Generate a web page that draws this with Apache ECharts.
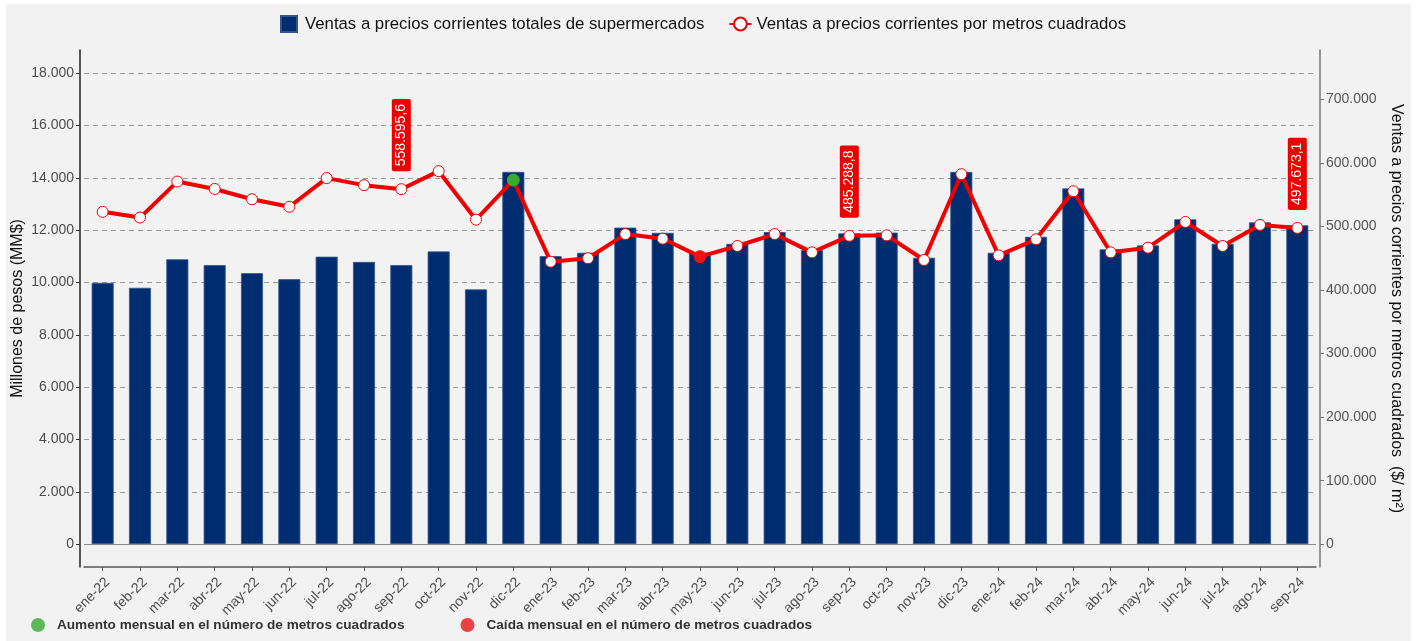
<!DOCTYPE html>
<html>
<head>
<meta charset="utf-8">
<script src="https://cdn.jsdelivr.net/npm/echarts@6/dist/echarts.min.js"></script>
<style>
html,body{margin:0;padding:0;background:#ffffff;}
#chart{position:absolute;left:6px;top:4px;width:1405px;height:637px;}
</style>
</head>
<body>
<div id="chart"></div>
<script>
var categories = ['ene-22','feb-22','mar-22','abr-22','may-22','jun-22','jul-22','ago-22','sep-22','oct-22','nov-22','dic-22',
  'ene-23','feb-23','mar-23','abr-23','may-23','jun-23','jul-23','ago-23','sep-23','oct-23','nov-23','dic-23',
  'ene-24','feb-24','mar-24','abr-24','may-24','jun-24','jul-24','ago-24','sep-24'];

var ventasTotales = [9990, 9800, 10890, 10670, 10360, 10130, 10990, 10790, 10670, 11190, 9740, 14230,
  11010, 11140, 12100, 11900, 11150, 11480, 11930, 11240, 11880, 11910, 10950, 14230,
  11140, 11750, 13600, 11270, 11420, 12420, 11480, 12300, 12190];

var ventasM2 = [523000, 514000, 570600, 559000, 542800, 531000, 576000, 565000, 558595.6, 587000, 510700, 573000,
  444600, 450000, 488000, 480800, 452500, 469300, 488000, 459300, 485288.8, 486000, 447200, 582200,
  454600, 479800, 555400, 459300, 466600, 507100, 469300, 502400, 497673.1];

var leftTicks = [0, 2000, 4000, 6000, 8000, 10000, 12000, 14000, 16000, 18000];
var rightTicks = [0, 100000, 200000, 300000, 400000, 500000, 600000, 700000];

var aumentoIdx = ['dic-22'];
var caidaIdx = ['may-23'];
var labeledIdx = ['sep-22', 'sep-23', 'sep-24'];

var serieBarName = 'Ventas a precios corrientes totales de supermercados';
var serieLineName = 'Ventas a precios corrientes por metros cuadrados';
var legAumento = 'Aumento mensual en el número de metros cuadrados';
var legCaida = 'Caída mensual en el número de metros cuadrados';

function fmt(v, dec) {
  var s = v.toFixed(dec);
  var parts = s.split('.');
  var ip = parts[0].replace(/\B(?=(\d{3})+(?!\d))/g, '.');
  return parts.length > 1 ? ip + ',' + parts[1] : ip;
}

var lineData = ventasM2.map(function (v, i) {
  var c = categories[i];
  var item = { value: v };
  if (aumentoIdx.indexOf(c) >= 0) {
    item.itemStyle = { color: '#3aaa35', borderColor: '#3aaa35' };
    item.symbolSize = 12;
  } else if (caidaIdx.indexOf(c) >= 0) {
    item.itemStyle = { color: '#ee1111', borderColor: '#ee1111' };
    item.symbolSize = 12;
  }
  if (labeledIdx.indexOf(c) >= 0) {
    item.label = {
      show: true,
      position: 'top',
      distance: 12,
      rotate: 90,
      align: 'left',
      verticalAlign: 'middle',
      color: '#ffffff',
      fontSize: 14,
      fontFamily: 'Liberation Sans, Arial, sans-serif',
      backgroundColor: '#ee0000',
      borderRadius: 2,
      padding: [3, 5, 2, 5],
      formatter: function (p) { return fmt(p.value, 1); }
    };
  }
  return item;
});

var chart = echarts.init(document.getElementById('chart'), null, { renderer: 'canvas' });
var font = 'Liberation Sans, Arial, sans-serif';

chart.setOption({
  backgroundColor: '#f2f2f2',
  animation: false,
  textStyle: { fontFamily: font },
  legend: [{
    data: [
      { name: serieBarName, icon: 'path://M0,0H10V10H0Z' },
      { name: serieLineName }
    ],
    top: 6,
    left: 269,
    itemWidth: 22,
    itemHeight: 16,
    itemGap: 24,
    symbolKeepAspect: true,
    textStyle: { fontSize: 16.75, color: '#111', fontFamily: font }
  }, {
    data: [
      { name: legAumento, icon: 'circle' },
      { name: legCaida, icon: 'circle' }
    ],
    bottom: 4,
    left: 20,
    itemWidth: 28,
    itemHeight: 14,
    itemGap: 56,
    symbolKeepAspect: true,
    textStyle: { fontSize: 13.6, fontWeight: 'bold', color: '#333', fontFamily: font }
  }],
  grid: { left: 78, right: 95, top: 46, bottom: 74, containLabel: false, outerBoundsMode: 'none' },
  xAxis: {
    type: 'category',
    data: categories,
    axisLine: { show: true, onZero: false, lineStyle: { color: '#555', width: 1.5 } },
    axisTick: { show: true, alignWithLabel: true, length: 4, lineStyle: { color: '#555' } },
    axisLabel: { rotate: 45, fontSize: 14, color: '#4d4d4d', margin: 8, interval: 0, verticalAlign: 'top' }
  },
  yAxis: [{
    type: 'value',
    position: 'left',
    offset: 4,
    min: -870,
    max: 18890,
    name: 'Millones de pesos (MM$)',
    nameLocation: 'middle',
    nameGap: 54,
    nameMoveOverlap: false,
    nameTextStyle: { fontSize: 16, color: '#111' },
    axisLine: { show: true, onZero: false, lineStyle: { color: '#222', width: 1.5 } },
    axisTick: { show: true, length: 4, customValues: leftTicks, lineStyle: { color: '#333' } },
    axisLabel: { customValues: leftTicks, fontSize: 14, color: '#4d4d4d', margin: 6,
      formatter: function (v) { return fmt(v, 0); } },
    splitLine: { show: true, lineStyle: { color: '#9a9a9a', type: [5, 4], width: 1 } }
  }, {
    type: 'value',
    position: 'right',
    offset: 4,
    min: -35700,
    max: 777600,
    name: 'Ventas a precios corrientes por metros cuadrados  ($/ m²)',
    nameLocation: 'middle',
    nameRotate: -90,
    nameGap: 68,
    nameTextStyle: { fontSize: 16, color: '#111' },
    axisLine: { show: true, onZero: false, lineStyle: { color: '#777', width: 1.5 } },
    axisTick: { show: true, length: 4, customValues: rightTicks, lineStyle: { color: '#777' } },
    axisLabel: { customValues: rightTicks, fontSize: 14, color: '#555', margin: 6,
      formatter: function (v) { return fmt(v, 0); } },
    splitLine: { show: false }
  }],
  series: [{
    name: serieBarName,
    type: 'bar',
    yAxisIndex: 0,
    data: ventasTotales,
    barWidth: 22,
    itemStyle: { color: '#002d6f', borderColor: '#33548a', borderWidth: 0.8 },
    markLine: {
      silent: true,
      symbol: 'none',
      label: { show: false },
      lineStyle: { color: '#8a8a8a', type: 'solid', width: 1.2 },
      data: [{ yAxis: 0 }]
    },
    z: 2
  }, {
    name: serieLineName,
    type: 'line',
    yAxisIndex: 1,
    data: lineData,
    symbol: 'circle',
    symbolSize: 11,
    showAllSymbol: true,
    lineStyle: { color: '#f00000', width: 4 },
    itemStyle: { color: '#ffffff', borderColor: '#f00000', borderWidth: 1 },
    z: 5
  }, {
    name: legAumento,
    type: 'scatter',
    data: [],
    itemStyle: { color: '#3aaa35' }
  }, {
    name: legCaida,
    type: 'scatter',
    data: [],
    itemStyle: { color: '#e8141a' }
  }]
});
</script>
</body>
</html>
